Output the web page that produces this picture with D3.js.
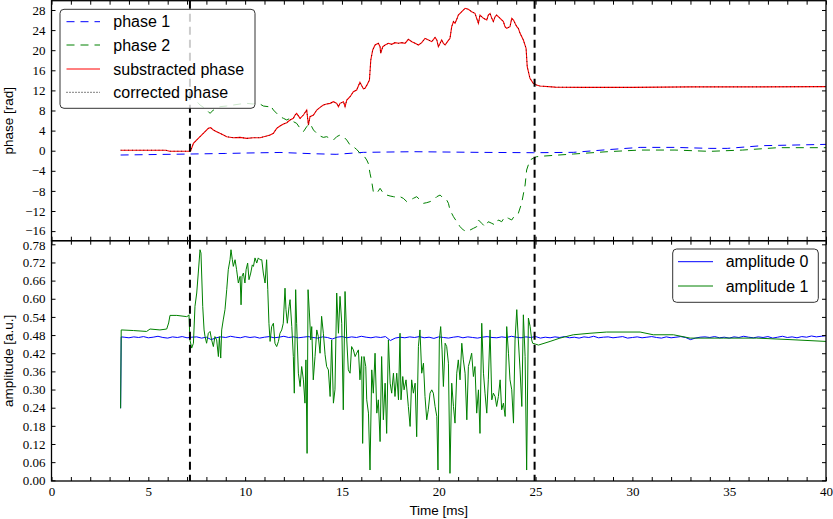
<!DOCTYPE html>
<html><head><meta charset="utf-8">
<script src="https://cdn.jsdelivr.net/npm/d3@7"></script>
<style>body{margin:0;background:#fff}</style>
</head><body><svg id="c" width="833" height="519"></svg>
<script>
// ---------- data ----------
const xTicks = d3.range(0, 41, 1);
const xLabelStep = 5;
const phaseTicks = [-16,-12,-8,-4,0,4,8,12,16,20,24,28];
const ampTicks = [0,0.06,0.12,0.18,0.24,0.30,0.36,0.42,0.48,0.54,0.60,0.66,0.72,0.78];
const markers = [7.15, 24.95];

const phase1 = [[3.57,-0.86],[5.0,-0.78],[7.15,-0.66],[9.0,-0.55],[10.08,-0.46],[11.8,-0.35],[13.5,-0.6],[14.7,-0.72],[16.1,-0.33],[18.7,-0.2],[22.1,-0.33],[24.9,-0.4],[26.95,-0.33],[28.7,0.2],[30.4,0.66],[32.2,0.66],[34.0,0.46],[34.9,0.46],[36.7,1.0],[38.4,1.13],[40,1.26]];

const phase2 = [[7.55,9.6],[7.67,9.09],[7.93,8.43],[8.19,7.43],[8.36,8.10],[8.53,8.43],[8.70,8.76],[9.05,8.89],[9.39,9.09],[9.74,9.29],[10.08,9.42],[10.42,9.29],[10.60,9.42],[10.77,9.29],[10.94,8.89],[11.20,8.76],[11.29,9.09],[11.46,8.10],[11.63,7.43],[11.80,6.77],[11.98,6.44],[12.15,6.11],[12.32,6.44],[12.49,5.78],[12.66,5.45],[12.84,4.45],[13.01,3.79],[13.18,4.78],[13.35,5.45],[13.44,4.78],[13.53,4.12],[13.70,3.45],[13.87,2.92],[14.04,2.65],[14.21,2.79],[14.39,2.45],[14.56,2.12],[14.73,2.79],[14.90,3.12],[15.08,2.79],[15.25,2.12],[15.42,1.12],[15.59,0.79],[15.76,0.26],[15.94,-0.53],[16.11,-0.86],[16.28,-1.85],[16.36,-2.51],[16.45,-4.50],[16.54,-6.16],[16.62,-8.15],[16.80,-8.48],[16.97,-7.49],[17.14,-8.48],[17.31,-8.82],[17.49,-9.02],[17.66,-9.15],[17.83,-9.28],[18.00,-9.15],[18.17,-9.48],[18.35,-10.14],[18.52,-9.81],[18.69,-9.48],[18.86,-9.15],[19.04,-9.81],[19.21,-10.47],[19.38,-10.34],[19.55,-10.14],[19.73,-9.81],[19.90,-9.15],[20.07,-8.82],[20.24,-9.48],[20.41,-9.81],[20.50,-10.47],[20.58,-11.80],[20.76,-13.13],[20.93,-14.13],[21.10,-15.12],[21.27,-15.78],[21.45,-16.12],[21.62,-15.78],[21.79,-15.45],[21.96,-15.12],[22.05,-13.79],[22.22,-14.45],[22.39,-15.12],[22.56,-14.13],[22.74,-14.45],[22.91,-14.79],[23.08,-13.79],[23.25,-14.13],[23.42,-13.13],[23.60,-13.46],[23.77,-13.79],[23.94,-12.80],[24.11,-12.46],[24.28,-10.47],[24.46,-6.83],[24.54,-3.84],[24.71,-1.85],[24.88,-1.5],[25.05,-1.2],[25.3,-1.1],[26.95,-0.66],[28.7,-0.2],[30.4,0.13],[32.2,0.13],[34.0,-0.13],[35.7,0.13],[37.5,0.6],[40,0.6]];

const subPhase = [[3.57,0.1],[5.9,0.1],[6.1,-0.1],[7.1,-0.1],[7.19,0.0],[7.33,1.46],[7.58,2.45],[7.84,3.45],[8.10,4.45],[8.22,4.59],[8.36,4.12],[8.53,3.78],[8.70,3.45],[8.88,3.12],[9.05,2.79],[9.39,2.59],[9.74,2.65],[10.08,2.45],[10.42,2.59],[10.77,2.59],[11.11,2.92],[11.29,3.12],[11.46,3.45],[11.63,4.45],[11.80,4.92],[11.98,5.31],[12.15,5.58],[12.32,6.11],[12.49,6.44],[12.58,7.10],[12.66,7.44],[12.84,6.44],[13.01,7.10],[13.18,8.09],[13.27,5.11],[13.35,6.77],[13.53,7.10],[13.70,8.09],[13.87,8.63],[14.04,9.09],[14.21,9.29],[14.39,9.42],[14.56,9.75],[14.73,9.42],[14.82,8.76],[14.90,9.42],[15.08,9.75],[15.16,8.76],[15.25,10.09],[15.42,10.75],[15.59,11.74],[15.76,12.08],[15.93,13.6],[16.11,12.3],[16.19,12.4],[16.28,13.0],[16.42,14.07],[16.49,18.05],[16.59,20.04],[16.71,21.03],[16.88,21.37],[16.97,20.70],[17.0,19.38],[17.11,20.70],[17.23,21.03],[17.40,21.37],[17.57,21.17],[17.74,21.50],[17.92,21.37],[18.09,21.50],[18.26,21.37],[18.43,22.16],[18.61,21.70],[18.78,21.37],[18.95,21.03],[19.12,21.50],[19.29,22.36],[19.47,22.03],[19.64,21.70],[19.81,22.56],[19.90,22.03],[19.98,20.70],[20.07,21.37],[20.15,22.03],[20.24,21.37],[20.33,21.03],[20.45,21.70],[20.58,22.36],[20.67,24.68],[20.76,25.68],[20.84,25.35],[20.93,26.14],[21.01,27.00],[21.19,27.67],[21.36,28.33],[21.53,28.13],[21.70,27.67],[21.87,27.33],[22.05,25.35],[22.13,27.00],[22.31,26.34],[22.48,26.01],[22.56,27.00],[22.65,27.33],[22.74,26.34],[22.82,25.68],[22.91,26.67],[22.99,27.00],[23.17,26.34],[23.34,25.68],[23.42,24.68],[23.51,24.35],[23.68,24.68],[23.77,26.34],[23.86,26.01],[23.94,25.35],[24.03,24.68],[24.11,24.35],[24.20,23.36],[24.37,22.03],[24.51,20.37],[24.57,16.72],[24.71,14.40],[24.88,13.41],[25.05,13.07],[25.22,12.88],[26.0,12.65],[27.5,12.6],[30,12.6],[33,12.7],[36,12.7],[40,12.75]];
const corrPhase = subPhase.map(d => [d[0], d[1]]);

const amp0Head = [[3.57,0.238],[3.60,0.474]];
const amp0Start = 3.75, amp0Step = 0.25;
const amp0 = [
0.473,0.471,0.474,0.472,0.475,0.471,0.473,0.476,0.472,0.470,
0.474,0.472,0.475,0.471,0.473,0.474,0.470,0.473,0.465,0.471,
0.474,0.472,0.476,0.473,0.471,0.475,0.472,0.474,0.470,0.473,
0.475,0.471,0.473,0.476,0.472,0.474,0.471,0.473,0.475,0.472,
0.470,0.474,0.472,0.467,0.473,0.475,0.471,0.474,0.472,0.476,
0.473,0.471,0.474,0.472,0.475,0.462,0.470,0.473,0.471,0.474,
0.472,0.475,0.471,0.473,0.469,0.474,0.472,0.470,0.473,0.475,
0.471,0.474,0.472,0.470,0.473,0.475,0.472,0.471,0.474,0.472,
0.476,0.473,0.471,0.474,0.472,0.475,0.470,0.473,0.471,0.474,
0.472,0.475,0.471,0.473,0.470,0.474,0.472,0.476,0.471,0.473,
0.474,0.471,0.473,0.475,0.470,0.472,0.474,0.471,0.473,0.475,
0.472,0.470,0.474,0.471,0.473,0.475,0.472,0.465,0.470,0.473,
0.474,0.472,0.475,0.471,0.473,0.470,0.474,0.472,0.476,0.473,
0.471,0.474,0.472,0.475,0.470,0.473,0.476,0.472,0.474,0.471,
0.475,0.473,0.477,0.474,0.476,0.478];

const amp1 = [[3.57,0.238],[3.60,0.497],[4.23,0.495],[4.91,0.492],[5.09,0.500],[5.60,0.497],[5.95,0.500],[6.05,0.52],[6.12,0.545],[6.47,0.545],[6.98,0.541],[7.07,0.544],[7.10,0.547],[7.15,0.464],[7.24,0.437],[7.33,0.453],[7.41,0.575],[7.50,0.619],[7.58,0.685],[7.67,0.762],[7.72,0.751],[7.81,0.575],[7.88,0.497],[7.93,0.475],[8.01,0.453],[8.10,0.486],[8.19,0.492],[8.27,0.464],[8.36,0.442],[8.44,0.475],[8.53,0.464],[8.62,0.409],[8.67,0.475],[8.74,0.404],[8.79,0.497],[8.87,0.530],[8.96,0.564],[9.05,0.630],[9.13,0.696],[9.22,0.729],[9.27,0.762],[9.34,0.729],[9.39,0.707],[9.48,0.729],[9.56,0.696],[9.65,0.652],[9.74,0.674],[9.79,0.580],[9.84,0.674],[9.91,0.685],[9.99,0.652],[10.05,0.696],[10.13,0.718],[10.20,0.663],[10.29,0.685],[10.37,0.712],[10.43,0.707],[10.51,0.735],[10.60,0.718],[10.68,0.735],[10.77,0.729],[10.86,0.729],[10.94,0.685],[11.03,0.652],[11.11,0.729],[11.17,0.630],[11.23,0.519],[11.29,0.459],[11.37,0.508],[11.46,0.519],[11.54,0.453],[11.63,0.442],[11.72,0.459],[11.80,0.486],[11.89,0.497],[11.97,0.519],[12.06,0.635],[12.11,0.564],[12.18,0.519],[12.27,0.575],[12.32,0.597],[12.41,0.508],[12.49,0.409],[12.54,0.288],[12.61,0.630],[12.66,0.519],[12.75,0.354],[12.84,0.310],[12.92,0.376],[13.01,0.332],[13.09,0.255],[13.14,0.398],[13.20,0.089],[13.25,0.630],[13.32,0.553],[13.39,0.464],[13.44,0.508],[13.52,0.332],[13.61,0.409],[13.70,0.497],[13.78,0.475],[13.87,0.420],[13.95,0.542],[14.04,0.486],[14.13,0.415],[14.21,0.376],[14.30,0.365],[14.39,0.277],[14.47,0.464],[14.56,0.255],[14.64,0.299],[14.73,0.619],[14.82,0.486],[14.90,0.608],[14.99,0.519],[15.07,0.233],[15.16,0.624],[15.25,0.464],[15.33,0.365],[15.42,0.354],[15.50,0.442],[15.59,0.431],[15.68,0.409],[15.76,0.420],[15.85,0.431],[15.93,0.332],[16.02,0.409],[16.07,0.122],[16.14,0.409],[16.23,0.376],[16.28,0.266],[16.37,0.222],[16.45,0.034],[16.54,0.365],[16.62,0.288],[16.71,0.420],[16.80,0.222],[16.88,0.266],[16.97,0.128],[17.05,0.409],[17.14,0.200],[17.23,0.321],[17.31,0.155],[17.40,0.464],[17.49,0.321],[17.57,0.288],[17.66,0.354],[17.74,0.277],[17.83,0.354],[17.92,0.266],[18.00,0.486],[18.05,0.266],[18.14,0.343],[18.21,0.299],[18.31,0.332],[18.43,0.244],[18.52,0.178],[18.60,0.332],[18.69,0.288],[18.78,0.321],[18.86,0.144],[18.95,0.442],[19.03,0.497],[19.12,0.354],[19.21,0.387],[19.29,0.277],[19.38,0.200],[19.46,0.233],[19.55,0.288],[19.64,0.299],[19.72,0.288],[19.81,0.244],[19.90,0.211],[19.96,0.034],[20.03,0.464],[20.10,0.508],[20.17,0.431],[20.24,0.310],[20.33,0.453],[20.41,0.442],[20.50,0.387],[20.58,0.023],[20.67,0.321],[20.76,0.244],[20.84,0.189],[20.93,0.354],[21.01,0.398],[21.10,0.332],[21.19,0.453],[21.27,0.398],[21.36,0.354],[21.45,0.200],[21.53,0.376],[21.62,0.398],[21.70,0.420],[21.79,0.343],[21.87,0.376],[21.96,0.222],[22.05,0.299],[22.13,0.155],[22.22,0.519],[22.31,0.354],[22.39,0.288],[22.48,0.222],[22.56,0.332],[22.65,0.497],[22.74,0.266],[22.82,0.288],[22.91,0.277],[22.99,0.244],[23.08,0.277],[23.17,0.332],[23.25,0.233],[23.34,0.255],[23.43,0.211],[23.51,0.508],[23.60,0.420],[23.68,0.332],[23.77,0.299],[23.86,0.189],[23.94,0.464],[24.03,0.564],[24.11,0.464],[24.20,0.365],[24.29,0.244],[24.37,0.547],[24.46,0.409],[24.54,0.034],[24.63,0.536],[24.72,0.508],[24.80,0.464],[24.85,0.453],[25.0,0.450],[25.15,0.447],[25.75,0.459],[26.26,0.470],[26.95,0.481],[27.81,0.486],[28.67,0.490],[30.40,0.490],[31.08,0.481],[32.12,0.481],[32.98,0.470],[34.70,0.470],[36.42,0.470],[38.14,0.465],[40.0,0.459]];

// ---------- layout ----------
const L = 51.5, R = 826, T1 = 0.7, B1 = 240.7, T2 = 240.7, B2 = 481;
const svg = d3.select("#c");
const x = d3.scaleLinear().domain([0, 40]).range([L, R]);
const yP = d3.scaleLinear().domain([-17.91, 29.85]).range([B1, T1]);
const yA = d3.scaleLinear().domain([-0.0023, 0.7919]).range([B2, T2]);
const serif = "'Liberation Serif', 'Times New Roman', serif";
const sans = "'Liberation Sans', Arial, sans-serif";

const defs = svg.append("defs");
defs.append("clipPath").attr("id","c1").append("rect").attr("x",L).attr("y",T1).attr("width",R-L).attr("height",B1-T1);
defs.append("clipPath").attr("id","c2").append("rect").attr("x",L).attr("y",T2).attr("width",R-L).attr("height",B2-T2);

const g1 = svg.append("g").attr("clip-path","url(#c1)");
const g2 = svg.append("g").attr("clip-path","url(#c2)");

const lineP = d3.line().x(d => x(d[0])).y(d => yP(d[1]));
const lineA = d3.line().x(d => x(d[0])).y(d => yA(d[1]));

g1.append("path").datum(phase1).attr("d", lineP).attr("fill","none").attr("stroke","#0000ff").attr("stroke-width",1).attr("stroke-dasharray","8,6");
g1.append("path").datum(phase2).attr("d", lineP).attr("fill","none").attr("stroke","#008000").attr("stroke-width",1).attr("stroke-dasharray","8,6");
g1.append("path").datum(subPhase).attr("d", lineP).attr("fill","none").attr("stroke","#ff0000").attr("stroke-width",1.1);
g1.append("path").datum(corrPhase).attr("d", lineP).attr("fill","none").attr("stroke","#000").attr("stroke-width",0.8).attr("stroke-dasharray","0.8,3");

const amp0Data = amp0Head.concat(amp0.map((v,i) => [amp0Start + i*amp0Step, v]));
g2.append("path").datum(amp0Data).attr("d", lineA).attr("fill","none").attr("stroke","#0000ff").attr("stroke-width",1);
g2.append("path").datum(amp1).attr("d", lineA).attr("fill","none").attr("stroke","#008000").attr("stroke-width",1);

// vertical markers
[[g1,T1,B1],[g2,T2,B2]].forEach(([g,t,b]) => {
  g.selectAll(null).data(markers).enter().append("line")
    .attr("x1", d => x(d)).attr("x2", d => x(d)).attr("y1", t).attr("y2", b)
    .attr("stroke","#000").attr("stroke-width",2).attr("stroke-dasharray","8,5");
});

// ---------- axes ----------
function styleAxis(g, fam){
  g.select(".domain").remove();
  g.selectAll(".tick line").attr("stroke","#000").attr("stroke-width",1);
  g.selectAll("text").attr("font-family", fam).attr("font-size", 13).attr("fill","#000");
  return g;
}
const fmtX = d => (d % xLabelStep === 0 ? d : "");
// top panel
styleAxis(svg.append("g").attr("transform",`translate(0,${T1})`).call(d3.axisTop(x).tickValues(xTicks).tickSize(-4).tickFormat("")), serif);
styleAxis(svg.append("g").attr("transform",`translate(0,${B1})`).call(d3.axisBottom(x).tickValues(xTicks).tickSize(-4).tickFormat("")), serif);
const gPL = styleAxis(svg.append("g").attr("transform",`translate(${L},0)`).call(d3.axisLeft(yP).tickValues(phaseTicks).tickSize(-4).tickPadding(6).tickFormat(d3.format("d"))), serif);
gPL.selectAll(".tick").filter(d => d === -16).select("text").attr("y", -1.2);
styleAxis(svg.append("g").attr("transform",`translate(${R},0)`).call(d3.axisRight(yP).tickValues(phaseTicks).tickSize(-4).tickFormat("")), serif);
// bottom panel
styleAxis(svg.append("g").attr("transform",`translate(0,${T2})`).call(d3.axisTop(x).tickValues(xTicks).tickSize(-4).tickFormat("")), serif);
styleAxis(svg.append("g").attr("transform",`translate(0,${B2})`).call(d3.axisBottom(x).tickValues(xTicks).tickSize(-4).tickPadding(6).tickFormat(fmtX)), serif);
const gAL = styleAxis(svg.append("g").attr("transform",`translate(${L},0)`).call(d3.axisLeft(yA).tickValues(ampTicks).tickSize(-4).tickPadding(6).tickFormat(d3.format(".2f"))), serif);
gAL.selectAll(".tick").filter(d => d === 0.78).select("text").attr("y", 1.2);
styleAxis(svg.append("g").attr("transform",`translate(${R},0)`).call(d3.axisRight(yA).tickValues(ampTicks).tickSize(-4).tickFormat("")), serif);

// spines
[[T1,B1],[T2,B2]].forEach(([t,b]) => {
  svg.append("rect").attr("x",L).attr("y",t).attr("width",R-L).attr("height",b-t)
    .attr("fill","none").attr("stroke","#000").attr("stroke-width",1.3);
});

// axis labels
svg.append("text").attr("transform",`translate(13,${(T1+B1)/2}) rotate(-90)`).attr("text-anchor","middle")
  .attr("font-family",sans).attr("font-size",13.5).text("phase [rad]");
svg.append("text").attr("transform",`translate(13,${(T2+B2)/2}) rotate(-90)`).attr("text-anchor","middle")
  .attr("font-family",sans).attr("font-size",13.5).text("amplitude [a.u.]");
svg.append("text").attr("x",(L+R)/2).attr("y",515).attr("text-anchor","middle")
  .attr("font-family",sans).attr("font-size",13.5).text("Time [ms]");

// ---------- legends ----------
function legend(items, bx, by, bw, bh, rows, lx1, lx2, tx){
  const lg = svg.append("g");
  lg.append("rect").attr("x",bx).attr("y",by).attr("width",bw).attr("height",bh).attr("rx",4)
    .attr("fill","#fff").attr("fill-opacity",0.8).attr("stroke","#333").attr("stroke-width",1);
  items.forEach((it,i) => {
    lg.append("line").attr("x1",lx1).attr("x2",lx2).attr("y1",rows[i]).attr("y2",rows[i])
      .attr("stroke",it.c).attr("stroke-width",1).attr("stroke-dasharray",it.dash||null);
    lg.append("text").attr("x",tx).attr("y",rows[i]).attr("dy","0.35em")
      .attr("font-family",sans).attr("font-size",16).text(it.label);
  });
}
legend([
  {label:"phase 1", c:"#0000ff", dash:"8,6"},
  {label:"phase 2", c:"#008000", dash:"8,6"},
  {label:"substracted phase", c:"#ff0000"},
  {label:"corrected phase", c:"#000", dash:"1,2"}
], 60, 9.3, 195, 99, [21.7,45,69,92.3], 66.5, 100, 113.3);
legend([
  {label:"amplitude 0", c:"#0000ff"},
  {label:"amplitude 1", c:"#008000"}
], 672.7, 249, 145.6, 53.3, [261.7,286], 678, 713, 725.7);
</script></body></html>
